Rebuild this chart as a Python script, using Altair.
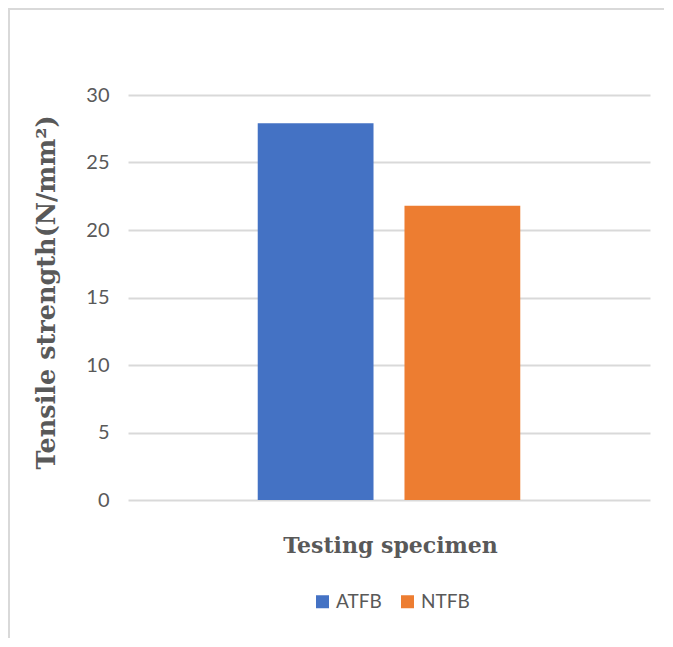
import altair as alt
import pandas as pd

specimens = ["ATFB", "NTFB"]
strength = [27.9, 21.8]
colors = ["#4472C4", "#ED7D31"]
y_ticks = [0, 5, 10, 15, 20, 25, 30]

df = pd.DataFrame({"specimen": specimens, "strength": strength})

TEXT = "#595959"
GRID = "#D9D9D9"

bars = alt.Chart(df).mark_bar().encode(
    x=alt.X(
        "specimen:N",
        sort=specimens,
        scale=alt.Scale(paddingInner=0.211, paddingOuter=0.884),
        axis=alt.Axis(
            title="Testing specimen",
            labels=False,
            ticks=False,
            domain=False,
            grid=False,
            titleFont="DejaVu Serif",
            titleFontWeight="bold",
            titleFontSize=22,
            titleColor=TEXT,
            titleX=262,
            titleY=45,
            titleBaseline="middle",
            titleAlign="center",
        ),
    ),
    y=alt.Y(
        "strength:Q",
        scale=alt.Scale(domain=[0, 30], nice=False),
        axis=alt.Axis(
            title="Tensile strength(N/mm²)",
            values=y_ticks,
            ticks=False,
            domain=False,
            grid=True,
            gridColor=GRID,
            gridWidth=2,
            labelFont="Lato",
            labelFontSize=20,
            labelColor=TEXT,
            labelPadding=19,
            titleFont="DejaVu Serif",
            titleFontWeight="bold",
            titleFontSize=25.5,
            titleColor=TEXT,
            titleAngle=-90,
            titleX=-82,
            titleY=197,
            titleBaseline="middle",
            titleAlign="center",
        ),
    ),
    color=alt.Color(
        "specimen:N",
        sort=specimens,
        scale=alt.Scale(domain=specimens, range=colors),
        legend=alt.Legend(
            title=None,
            orient="none",
            direction="horizontal",
            legendX=185,
            legendY=497,
            symbolType="square",
            symbolSize=169,
            symbolStrokeWidth=0,
            labelFont="Lato",
            labelFontSize=19,
            labelColor=TEXT,
            labelOffset=4,
            columnPadding=16,
        ),
    ),
)

frame_df = pd.DataFrame({"k": [0]})
top_line = alt.Chart(frame_df).mark_rule(color=GRID, strokeWidth=2).encode(
    x=alt.value(-120), x2=alt.value(580), y=alt.value(-86)
)
left_line = alt.Chart(frame_df).mark_rule(color=GRID, strokeWidth=2).encode(
    x=alt.value(-119), y=alt.value(-87), y2=alt.value(560)
)

chart = alt.layer(bars, top_line, left_line).properties(
    width=522,
    height=405,
    autosize=alt.AutoSizeParams(type="none"),
    padding={"left": 120, "top": 87, "right": 14, "bottom": 138},
    background="white",
).configure_view(stroke=None)

chart.save("out.html", embed_options={"renderer": "svg", "actions": False})
